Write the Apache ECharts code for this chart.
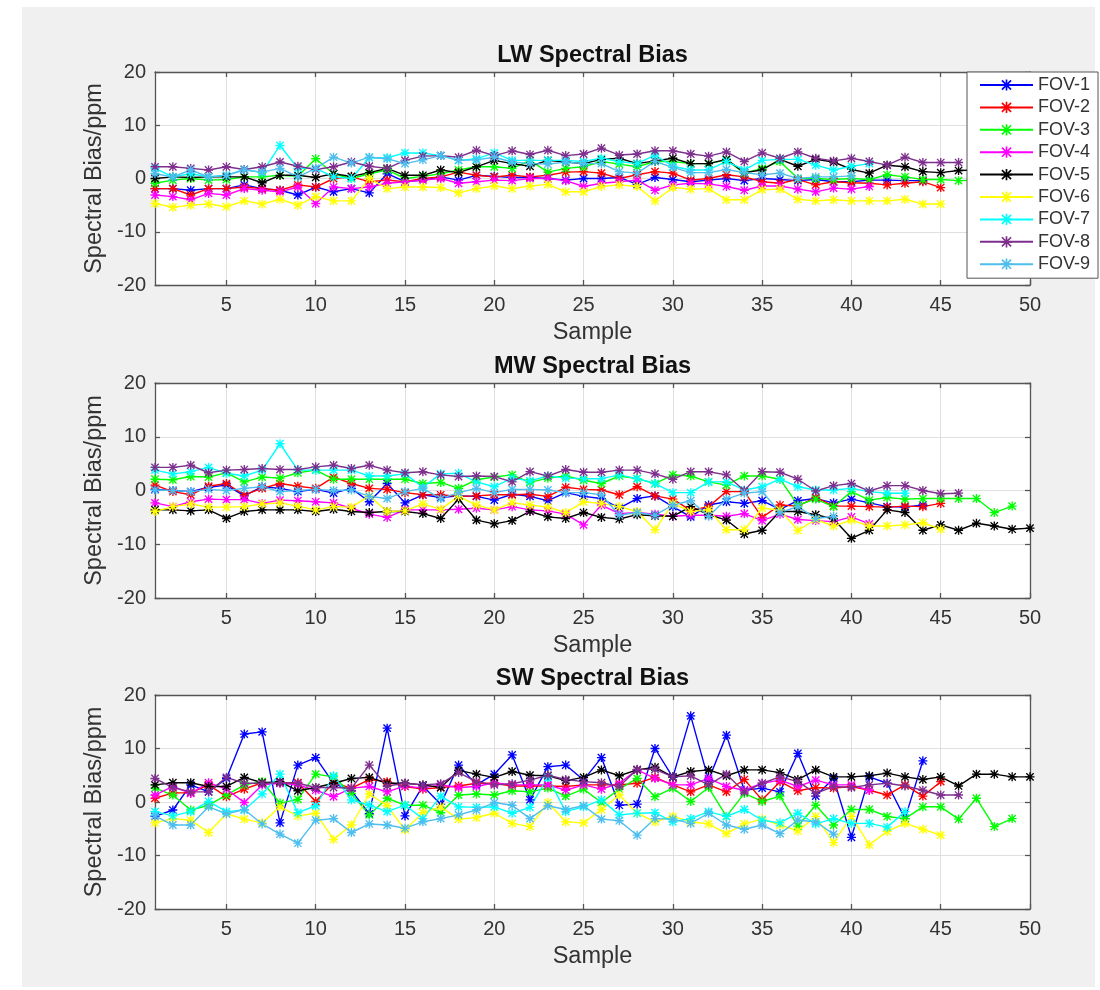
<!DOCTYPE html>
<html><head><meta charset="utf-8">
<script src="https://cdn.jsdelivr.net/npm/echarts@6/dist/echarts.min.js"></script>
<style>html,body{margin:0;padding:0;background:#fff}#c{width:1100px;height:990px}</style>
</head><body><div id="c"></div><script>
const fovNames = ['FOV-1','FOV-2','FOV-3','FOV-4','FOV-5','FOV-6','FOV-7','FOV-8','FOV-9'];
const fovColors = ['#0000ff','#ff0000','#00ff00','#ff00ff','#000000','#ffff00','#00ffff','#7e2f8e','#4dbeee'];
const panelTitles = ['LW Spectral Bias','MW Spectral Bias','SW Spectral Bias'];
const xTickValues = [5,10,15,20,25,30,35,40,45,50];
const xLabel = 'Sample';
const yLabel = 'Spectral Bias/ppm';

// LW
const lwFov1 = [-1.9,-1.9,-2.2,-1.9,-1.9,-1.2,-1.9,-2.2,-3.1,-1.6,-2.5,-1.9,-2.7,0.9,-0.6,-0.3,0.3,-0.3,0.6,0.4,0.2,0.2,0,-0.3,0,0,0.2,-1.1,0.2,-0.2,-0.6,-0.3,0,-0.4,0,-0.2,-0.4,-0.2,-0.6,-0.6,-0.3,-0.3,-0.4,-0.4];
const lwFov2 = [-1.9,-1.9,-3.1,-1.9,-1.9,-1.6,-1.9,-2.2,-1.2,-1.6,0,0.3,-0.6,-0.3,-0.6,0,0.3,1.2,0.6,0.3,0.6,0.3,0.6,1.2,1.3,1.0,0,0.7,1.3,1.0,-0.3,0,0.7,0.3,-0.6,-0.9,-0.2,-1.2,-0.6,-0.8,-0.9,-1.2,-0.9,-0.6,-1.7];
const lwFov3 = [-0.9,-0.3,0,-0.3,-0.2,0.3,0.3,0.6,0.4,3.7,0.9,0,0.9,1.6,0,0.4,0.9,1.6,2.2,2.2,1.9,3.4,1.2,1.9,2.2,3.2,2.7,2.2,3.2,3.2,2.8,2.8,3.5,1.0,1.9,3.2,0,0,-0.2,0,-0.2,0.7,0.3,-0.2,-0.2,-0.4,-0.3,0,-0.3];
const lwFov4 = [-3.1,-3.4,-4.0,-2.8,-3.1,-1.9,-2.2,-2.5,-1.6,-4.7,-1.6,-1.9,-1.6,-0.9,-0.6,-0.3,0,-0.9,-0.6,-0.3,-0.4,0,0,-0.4,-1.5,-0.9,-0.6,-0.3,-2.2,-1.2,-0.9,-1.0,-1.5,-2.2,-1.4,-1.4,-2.0,-2.5,-1.8,-2.0,-1.5];
const lwFov5 = [0,0.3,0.2,0.3,0.3,0.3,-0.8,0.6,0.6,0.2,0.9,0.4,1.1,1.9,0.6,0.6,1.6,1.1,2.2,3.4,2.8,2.3,3.4,3.1,2.8,3.6,3.8,2.8,3.3,3.8,2.8,2.8,3.6,1.1,1.6,3.6,2.3,3.6,3.1,1.7,1.0,2.5,2.2,1.3,1.1,1.5,1.6,1.6,1.4,1.6];
const lwFov6 = [-4.7,-5.4,-5.0,-4.8,-5.3,-4.2,-4.8,-3.9,-5.0,-3.4,-4.2,-4.2,0,-1.9,-1.6,-1.6,-1.7,-2.7,-1.9,-1.4,-1.9,-1.4,-1.1,-2.5,-2.5,-1.5,-1.2,-1.5,-4.2,-1.7,-2.0,-1.9,-4.0,-4.0,-2.1,-2.0,-3.9,-4.2,-4.0,-4.2,-4.2,-4.2,-3.9,-4.8,-4.8];
const lwFov7 = [1.9,0.3,0.9,0.3,0.6,1.7,1.1,6.2,1.9,1.9,0.3,0,3.9,3.9,4.8,4.8,4.3,3.4,3.7,4.8,3.4,3.4,3.4,3.4,3.2,3.8,3.2,2.8,4.4,2.3,1.6,1.6,3.2,1.6,3.4,3.6,3.6,2.5,1.6,2.3,2.8];
const lwFov8 = [2.2,2.2,1.9,1.6,2.2,1.7,2.2,3.1,2.3,1.7,2.2,3.1,2.3,1.9,3.4,4.2,4.3,4.0,5.3,4.3,5.2,4.5,5.3,4.3,4.6,5.7,4.4,4.6,5.2,5.2,4.6,4.2,5.0,3.2,4.8,3.8,5.0,3.8,3.3,3.8,3.2,2.5,4.0,3.0,3.0,3.0];
const lwFov9 = [0.9,0.3,1.6,0.3,0.6,1.6,1.2,1.9,0.3,1.9,4.0,2.9,4.0,3.7,2.8,3.5,4.3,3.4,3.5,4.0,3.1,2.8,2.7,3.1,2.8,2.8,1.3,1.0,3.2,2.1,1.1,1.1,1.7,1.1,0.7,1.0,0,0.3,0.3,0.5];

// MW
const mwFov1 = [0.2,0,-0.2,0.6,1.0,-1.0,0.7,0.4,-0.2,0.2,-0.5,0.4,-2.1,1.3,-2.3,-0.8,-1.3,-1.0,-1.1,-1.8,-0.7,-1.1,-1.9,-0.4,-1.1,-1.5,-3.3,-1.5,-1.0,-3.0,-4.9,-2.7,-2.1,-2.4,-1.9,-3.5,-1.9,-1.5,-2.3,-1.6,-2.3,-3.0,-3.1,-2.7];
const mwFov2 = [1.0,-0.2,-0.8,0.8,1.3,-0.8,0.4,1.3,0.8,0.4,2.5,1.3,0.4,0.2,-0.4,-0.8,-0.8,-1.1,-1.0,-0.8,-0.8,-0.7,-1.1,0.6,0.2,0.1,-0.8,0.7,-1.0,-1.6,-3.7,-3.0,-0.2,-0.2,-5.0,-2.7,-2.9,-1.3,-2.9,-2.9,-3.0,-3.1,-2.9,-3.0,-2.4];
const mwFov3 = [2.1,2.0,2.6,2.5,3.3,1.6,2.5,2.3,3.3,3.8,2.1,2.1,2.1,2.1,2.1,1.3,1.5,0.4,2.0,2.5,2.9,1.5,2.3,2.7,1.9,1.3,2.7,2.2,1.3,2.9,2.7,1.6,1.0,2.7,2.7,2.1,-2.7,-1.6,-3.0,-0.2,-1.8,-1.3,-1.6,-1.5,-1.5,-1.5,-1.5,-4.1,-2.9];
const mwFov4 = [-2.3,-3.0,-2.1,-1.6,-1.7,-1.7,-2.4,-1.8,-1.9,-2.1,-2.3,-3.3,-4.4,-5.0,-3.6,-3.6,-3.6,-3.5,-3.3,-3.6,-3.0,-3.6,-3.8,-4.4,-6.4,-2.7,-4.3,-4.1,-4.4,-4.8,-4.6,-4.6,-4.8,-4.3,-5.6,-4.4,-5.4,-5.6,-5.8,-4.9,-6.2];
const mwFov5 = [-3.6,-3.6,-3.8,-3.6,-5.2,-3.9,-3.6,-3.6,-3.6,-3.9,-3.5,-3.9,-4.1,-3.9,-3.9,-4.3,-5.2,-1.6,-5.5,-6.2,-5.6,-3.9,-4.9,-5.2,-4.1,-5.0,-5.3,-4.5,-4.7,-4.8,-3.0,-4.5,-5.5,-8.1,-7.4,-3.9,-3.9,-4.5,-5.3,-8.9,-7.4,-3.6,-4.1,-7.4,-6.4,-7.4,-6.1,-6.6,-7.2,-7.0];
const mwFov6 = [-3.9,-3.0,-2.5,-3.1,-3.1,-3.0,-2.5,-2.3,-2.9,-3.6,-3.0,-3.1,-1.0,-3.9,-3.8,-2.5,-3.5,-1.1,-2.7,-3.6,-2.3,-2.7,-3.1,-4.1,-2.1,-2.4,-3.0,-3.9,-7.3,-2.4,-3.9,-3.6,-7.3,-7.3,-3.3,-3.6,-7.4,-5.4,-6.6,-5.5,-6.6,-6.6,-6.4,-6.0,-7.2];
const mwFov7 = [3.8,3.1,3.5,4.3,3.2,2.7,3.8,8.7,3.8,3.8,3.8,3.8,2.7,2.7,3.1,0.6,3.1,3.2,1.6,0.7,2.3,1.8,2.7,2.3,2.2,2.2,2.9,2.2,1.3,-0.4,-0.4,1.6,1.6,0.1,0.7,2.1,0.7,0.1,0.1,0.4,-0.2,-0.5,-0.5];
const mwFov8 = [4.3,4.3,4.7,3.3,3.8,3.9,4.1,3.9,3.9,4.4,4.7,4.1,4.7,3.8,3.3,3.5,2.9,2.6,2.7,2.6,1.6,3.5,2.7,3.9,3.4,3.4,3.8,3.8,3.1,2.1,3.5,3.5,2.9,0,3.5,3.4,2.1,-0.1,0.9,1.3,-0.1,0.9,0.9,0,-0.6,-0.5];
const mwFov9 = [0.1,0,-0.2,0.2,0,0.4,0.7,-0.2,0,0.2,0,0.1,-1.1,-1.5,-0.2,0.4,-1.5,-0.4,0.4,-0.4,0.2,0.2,0.1,-0.4,-0.4,-0.8,-4.6,-4.1,-4.6,-2.7,-1.9,-4.8,-1.6,-0.5,-0.2,-4.1,-3.0,-5.2,-4.8];

// SW
const swFov1 = [-2.7,-1.5,3.2,1.9,4.4,12.7,13.1,-3.9,6.9,8.3,3.5,2.1,-2.2,13.8,-2.6,3.0,-0.4,6.9,3.2,5.2,8.8,0.4,6.6,6.9,4.1,8.3,-0.6,-0.4,10.0,4.6,16.1,4.1,12.5,2.2,2.6,1.9,9.1,1.1,4.4,-6.6,4.7,3.5,-3.1,7.7];
const swFov2 = [0.7,1.7,1.7,3.2,1.0,2.4,3.6,3.6,3.6,0.1,3.6,2.6,4.2,3.8,2.9,2.4,2.7,3.0,3.5,3.5,3.0,3.0,3.0,2.9,3.2,3.2,3.2,3.5,4.6,3.2,1.9,3.2,1.9,4.2,0.4,3.8,2.1,2.7,2.6,2.9,2.2,1.3,3.2,1.1,3.8];
const swFov3 = [2.6,1.3,-1.5,-0.6,1.3,3.2,3.8,-0.2,0.5,5.2,4.7,1.6,-2.4,0.7,-0.6,-0.6,-2.0,1.3,1.5,1.3,2.1,1.9,2.6,1.1,2.4,-0.1,2.4,4.4,1.0,2.6,0.1,2.7,-2.7,1.6,0.1,1.1,-4.5,-0.6,-4.3,-1.4,-1.4,-2.7,-3.1,-0.9,-0.9,-3.2,0.7,-4.6,-3.1];
const swFov4 = [1.3,2.9,1.6,3.6,2.4,-0.1,3.2,3.5,3.2,2.2,1.0,2.6,2.9,1.9,3.0,2.6,3.2,2.7,2.9,3.6,3.2,3.2,3.2,2.2,3.2,2.4,3.5,6.0,4.4,3.2,3.2,4.4,2.9,2.2,3.5,4.1,2.9,4.1,3.2,3.2,2.2];
const swFov5 = [3.2,3.6,3.6,2.9,2.9,4.6,3.6,3.8,2.1,2.7,3.5,4.4,4.6,3.5,3.5,3.2,2.7,5.9,5.2,4.6,5.7,5.0,4.9,4.0,4.6,6.0,4.9,6.0,6.5,4.7,5.7,6.0,4.9,6.0,6.0,5.5,4.2,6.0,4.7,4.7,4.9,5.4,4.7,4.2,4.7,3.0,5.2,5.2,4.7,4.7];
const swFov6 = [-3.9,-3.1,-3.4,-5.7,-2.2,-3.2,-3.9,-0.9,-2.6,-2.1,-7.0,-4.3,1.5,-0.7,-5.2,-2.0,-0.9,-3.2,-2.9,-2.1,-4.0,-4.6,-0.1,-3.7,-3.9,-1.4,1.3,-2.1,-3.7,-2.7,-3.7,-4.1,-5.9,-4.1,-3.2,-4.3,-5.4,-2.7,-7.6,-2.7,-8.0,-5.5,-4.0,-5.1,-6.2];
const swFov7 = [-1.8,-2.6,-1.8,0.1,-1.8,-1.5,1.5,5.2,-2.0,-0.7,4.9,0.4,-0.6,-1.8,-0.6,-3.1,1.1,-0.9,-1.0,-0.9,-2.1,-1.0,4.6,-1.8,-0.9,0.4,-2.4,-2.1,-2.0,-3.7,-3.1,-1.8,-2.7,-1.4,-3.4,-3.9,-2.1,-4.1,-3.1,-4.0,-4.0,-4.7,-1.8];
const swFov8 = [4.4,2.7,1.9,1.9,4.6,3.5,3.5,3.6,3.5,2.7,2.7,2.6,6.9,3.0,3.5,3.2,3.4,5.5,3.8,3.2,3.4,4.1,5.0,4.2,3.8,3.6,2.9,6.1,6.1,4.7,4.9,3.2,5.2,1.9,3.5,4.7,3.8,1.6,2.9,2.7,3.2,3.5,3.0,2.2,1.3,1.3];
const swFov9 = [-2.6,-4.3,-4.3,-0.9,-2.2,-1.4,-4.1,-6.0,-7.7,-3.4,-3.1,-5.7,-4.1,-4.3,-4.9,-3.7,-3.1,-2.4,-1.5,-0.1,-0.6,-3.1,-0.7,-1.4,-0.7,-3.2,-3.5,-6.2,-3.1,-3.2,-4.0,-2.1,-4.3,-5.1,-4.3,-5.9,-3.4,-3.7,-6.0];

const panelData = [
  [lwFov1,lwFov2,lwFov3,lwFov4,lwFov5,lwFov6,lwFov7,lwFov8,lwFov9],
  [mwFov1,mwFov2,mwFov3,mwFov4,mwFov5,mwFov6,mwFov7,mwFov8,mwFov9],
  [swFov1,swFov2,swFov3,swFov4,swFov5,swFov6,swFov7,swFov8,swFov9]
];

const FONT = '"Liberation Sans", Arial, Helvetica, sans-serif';
const AXC = '#555555';
const TXT = '#333333';
const asterisk = 'path://M8.5,0H11.5V20H8.5Z M0,8.5H20V11.5H0Z M2.93,0.81L19.19,17.07L17.07,19.19L0.81,2.93Z M17.07,0.81L19.19,2.93L2.93,19.19L0.81,17.07Z';

const gridTops = [72, 383, 695];
const gridHeights = [213, 215, 214];
const gridLeft = 155, gridWidth = 875;

const grids = [], xAxes = [], yAxes = [], series = [], graphics = [];
graphics.push({type:'rect', z:-100, shape:{x:22,y:7,width:1073,height:980}, style:{fill:'#f0f0f0'}, silent:true});

for (let p = 0; p < 3; p++) {
  grids.push({left: gridLeft, top: gridTops[p], width: gridWidth, height: gridHeights[p], show: true, backgroundColor: '#ffffff', borderWidth: 0, containLabel: false});
  const axLine = {show: true, onZero: false, lineStyle: {color: AXC, width: 1.3}};
  xAxes.push({
    gridIndex: p, type: 'value', min: 1, max: 50, position: 'bottom',
    name: xLabel, nameLocation: 'middle', nameGap: 36,
    nameTextStyle: {fontSize: 23.5, color: TXT, fontFamily: FONT},
    axisLine: axLine,
    axisTick: {show: true, inside: true, length: 5, customValues: xTickValues, lineStyle: {color: AXC, width: 1.3}},
    axisLabel: {show: true, customValues: xTickValues, fontSize: 20, color: TXT, fontFamily: FONT, margin: 10},
    splitLine: {show: true, lineStyle: {color: '#e0e0e0', width: 1}}
  });
  xAxes.push({
    gridIndex: p, type: 'value', min: 1, max: 50, position: 'top',
    axisLine: axLine,
    axisTick: {show: true, inside: true, length: 5, customValues: xTickValues, lineStyle: {color: AXC, width: 1.3}},
    axisLabel: {show: false}, splitLine: {show: false}
  });
  yAxes.push({
    gridIndex: p, type: 'value', min: -20, max: 20, interval: 10, position: 'left',
    name: yLabel, nameLocation: 'middle', nameGap: 46, nameRotate: 90,
    nameTextStyle: {fontSize: 23.5, color: TXT, fontFamily: FONT},
    axisLine: axLine,
    axisTick: {show: true, inside: true, length: 5, lineStyle: {color: AXC, width: 1.3}},
    axisLabel: {show: true, fontSize: 20, color: TXT, fontFamily: FONT, margin: 9},
    splitLine: {show: true, lineStyle: {color: '#e0e0e0', width: 1}}
  });
  yAxes.push({
    gridIndex: p, type: 'value', min: -20, max: 20, interval: 10, position: 'right',
    axisLine: axLine,
    axisTick: {show: true, inside: true, length: 5, lineStyle: {color: AXC, width: 1.3}},
    axisLabel: {show: false}, splitLine: {show: false}
  });
  graphics.push({type: 'text', z: 10, x: gridLeft + gridWidth / 2, y: gridTops[p] - 16,
    style: {text: panelTitles[p], font: 'bold 23.5px ' + FONT, fill: '#111', textAlign: 'center', textVerticalAlign: 'middle'}});
  for (let k = 0; k < 9; k++) {
    series.push({
      type: 'line', name: fovNames[k], xAxisIndex: 2 * p, yAxisIndex: 2 * p,
      data: panelData[p][k].map((v, i) => [i + 1, v]),
      symbol: asterisk, symbolSize: 9, showAllSymbol: true,
      lineStyle: {color: fovColors[k], width: 1.4},
      itemStyle: {color: fovColors[k], borderWidth: 0},
      emphasis: {disabled: true}, animation: false
    });
  }
}

const chart = echarts.init(document.getElementById('c'), null, {renderer: 'canvas'});
chart.setOption({
  animation: false,
  grid: grids, xAxis: xAxes, yAxis: yAxes, series: series,
  graphic: graphics,
  legend: {
    data: fovNames, orient: 'vertical', left: 967, top: 72,
    itemWidth: 53, itemHeight: 14, itemGap: 4.4, padding: [4, 8, 5, 12],
    backgroundColor: '#ffffff', borderColor: '#555555', borderWidth: 1, borderRadius: 0,
    textStyle: {fontSize: 18, color: TXT, fontFamily: FONT}, selectedMode: false
  }
});
</script></body></html>
